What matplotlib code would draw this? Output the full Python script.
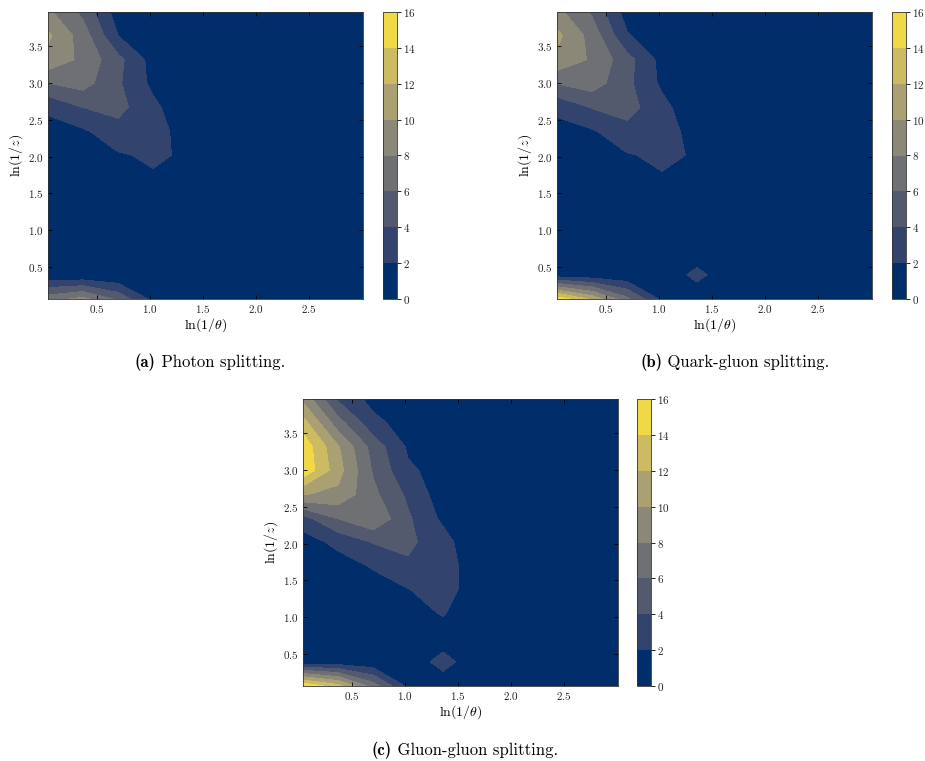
#!/usr/bin/env python3
# -*- coding: utf-8 -*-

import numpy as np
import matplotlib.pyplot as plt

plt.rcParams['font.family'] = ['cmr10']
plt.rcParams['mathtext.fontset'] = 'cm'
plt.rcParams['axes.formatter.use_mathtext'] = True

# bin centres of the Lund plane grid
ln_theta = [0.04, 0.37, 0.70, 1.03, 1.36, 1.69, 2.02, 2.35, 2.68, 3.01]
ln_z = [0.06, 0.39, 0.71, 1.04, 1.37, 1.69, 2.02, 2.34, 2.67, 3.00, 3.32, 3.65, 3.97]
levels = [0, 2, 4, 6, 8, 10, 12, 14, 16]

# densities, one row per ln(1/z) bin (bottom to top)
photon = [
    [7.1, 8.6, 5.5, 1.4, 0.3, 0.0, 0.0, 0.0, 0.0, 0.0],
    [0.5, 0.2, 0.1, 0.2, 0.8, 0.1, 0.0, 0.0, 0.0, 0.0],
    [0.2, 0.3, 0.3, 0.3, 0.4, 0.1, 0.0, 0.0, 0.0, 0.0],
    [0.2, 0.3, 0.4, 0.5, 0.5, 0.2, 0.0, 0.0, 0.0, 0.0],
    [0.3, 0.4, 0.6, 0.8, 0.7, 0.2, 0.0, 0.0, 0.0, 0.0],
    [0.5, 0.7, 1.0, 1.75, 1.2, 0.2, 0.0, 0.0, 0.0, 0.0],
    [0.8, 1.2, 1.8, 2.3, 1.73, 0.2, 0.0, 0.0, 0.0, 0.0],
    [1.4, 1.68, 3.2, 3.0, 0.9, 0.1, 0.0, 0.0, 0.0, 0.0],
    [2.3, 4.0, 4.64, 2.5, 0.4, 0.0, 0.0, 0.0, 0.0, 0.0],
    [6.0, 6.8, 4.3, 1.5, 0.3, 0.0, 0.0, 0.0, 0.0, 0.0],
    [9.45, 7.5, 4.6, 1.2, 0.2, 0.0, 0.0, 0.0, 0.0, 0.0],
    [10.35, 7.0, 2.0, 0.5, 0.1, 0.0, 0.0, 0.0, 0.0, 0.0],
    [8.4, 5.5, 1.0, 0.3, 0.0, 0.0, 0.0, 0.0, 0.0, 0.0],
]

quark_gluon = [
    [15.5, 11.5, 6.5, 1.5, 0.3, 0.0, 0.0, 0.0, 0.0, 0.0],
    [0.7, 0.5, 0.3, 0.3, 2.7, 0.3, 0.0, 0.0, 0.0, 0.0],
    [0.2, 0.3, 0.3, 0.3, 0.4, 0.1, 0.0, 0.0, 0.0, 0.0],
    [0.2, 0.3, 0.4, 0.5, 0.5, 0.2, 0.0, 0.0, 0.0, 0.0],
    [0.3, 0.4, 0.6, 0.8, 0.7, 0.2, 0.0, 0.0, 0.0, 0.0],
    [0.5, 0.7, 1.0, 1.8, 1.3, 0.2, 0.0, 0.0, 0.0, 0.0],
    [0.8, 1.2, 1.85, 2.4, 1.8, 0.2, 0.0, 0.0, 0.0, 0.0],
    [1.4, 1.75, 3.3, 3.1, 1.0, 0.1, 0.0, 0.0, 0.0, 0.0],
    [2.4, 4.1, 4.8, 2.6, 0.5, 0.0, 0.0, 0.0, 0.0, 0.0],
    [6.1, 7.0, 4.5, 1.6, 0.3, 0.0, 0.0, 0.0, 0.0, 0.0],
    [9.6, 7.7, 4.8, 1.3, 0.2, 0.0, 0.0, 0.0, 0.0, 0.0],
    [10.5, 7.2, 2.2, 0.5, 0.1, 0.0, 0.0, 0.0, 0.0, 0.0],
    [8.6, 5.7, 1.1, 0.3, 0.0, 0.0, 0.0, 0.0, 0.0, 0.0],
]

gluon_gluon = [
    [15.8, 12.7, 7.0, 1.5, 0.4, 0.1, 0.0, 0.0, 0.0, 0.0],
    [0.6, 0.6, 0.4, 0.3, 3.0, 0.2, 0.0, 0.0, 0.0, 0.0],
    [0.1, 0.2, 0.3, 0.4, 0.6, 0.2, 0.0, 0.0, 0.0, 0.0],
    [0.2, 0.3, 0.5, 1.0, 2.15, 0.3, 0.0, 0.0, 0.0, 0.0],
    [0.3, 0.5, 1.0, 1.9, 3.2, 0.4, 0.0, 0.0, 0.0, 0.0],
    [0.5, 1.0, 2.18, 3.7, 3.3, 0.4, 0.0, 0.0, 0.0, 0.0],
    [1.0, 2.57, 4.1, 4.4, 2.9, 0.0, 0.0, 0.0, 0.0, 0.0],
    [3.2, 6.0, 7.75, 4.3, 1.56, 0.3, 0.0, 0.0, 0.0, 0.0],
    [10.1, 9.5, 6.5, 3.6, 0.9, 0.2, 0.0, 0.0, 0.0, 0.0],
    [15.6, 10.8, 5.8, 2.3, 1.3, 0.2, 0.0, 0.0, 0.0, 0.0],
    [15.4, 10.2, 5.2, 1.7, 0.5, 0.1, 0.0, 0.0, 0.0, 0.0],
    [12.8, 6.8, 2.6, 1.0, 0.3, 0.0, 0.0, 0.0, 0.0, 0.0],
    [9.5, 3.7, 1.3, 0.4, 0.1, 0.0, 0.0, 0.0, 0.0, 0.0],
]


def add_caption(fig, label, text, cx, cy):
    # bold "(x)" followed by the roman caption, centred as one line
    renderer = fig.canvas.get_renderer()
    y = 1 - cy / 761
    t1 = fig.text(0, y, label, family='cmb10', fontsize=12, va='center')
    t2 = fig.text(0, y, ' ' + text, family='cmr10', fontsize=12, va='center')
    w1 = t1.get_window_extent(renderer).width
    w2 = t2.get_window_extent(renderer).width
    x0 = cx - (w1 + w2) / 2
    t1.set_x(x0 / 925)
    t2.set_x((x0 + w1) / 925)


def draw_panel(fig, rect, crect, values):
    ax = fig.add_axes(rect)
    cax = fig.add_axes(crect)
    cs = ax.contourf(ln_theta, ln_z, np.array(values), levels=levels, cmap='cividis')
    ax.set_xticks([0.5, 1.0, 1.5, 2.0, 2.5])
    ax.set_yticks([0.5, 1.0, 1.5, 2.0, 2.5, 3.0, 3.5])
    ax.tick_params(direction='in', top=True, right=True, length=3, width=0.6,
                   labelsize=8, labelcolor='#222222', pad=3)
    for sp in ax.spines.values():
        sp.set_linewidth(0.6)
        sp.set_color('#333333')
    ax.set_xlabel(r'$\ln(1/\theta)$', fontsize=10, labelpad=1)
    ax.set_ylabel(r'$\ln(1/z)$', fontsize=10, labelpad=2)

    cb = fig.colorbar(cs, cax=cax, ticks=levels)
    cb.ax.tick_params(length=3, width=0.6, labelsize=8, labelcolor='#222222', pad=1)
    cb.outline.set_linewidth(0.6)
    cb.outline.set_edgecolor('#333333')


def main():
    fig = plt.figure(figsize=(9.25, 7.61), dpi=100)

    def frac(left, top, right, bottom):
        return [left / 925, 1 - bottom / 761, (right - left) / 925, (bottom - top) / 761]

    draw_panel(fig, frac(48, 12, 363, 299), frac(383, 12, 397, 299), photon)
    draw_panel(fig, frac(557, 12, 872, 299), frac(892, 12, 906, 299), quark_gluon)
    draw_panel(fig, frac(303, 399, 618, 686), frac(637, 399, 651, 686), gluon_gluon)

    add_caption(fig, '(a)', 'Photon splitting.', 210, 362)
    add_caption(fig, '(b)', 'Quark-gluon splitting.', 735, 362)
    add_caption(fig, '(c)', 'Gluon-gluon splitting.', 465, 750)

    plt.savefig('out.png', dpi=100)


if __name__ == "__main__":
    main()
